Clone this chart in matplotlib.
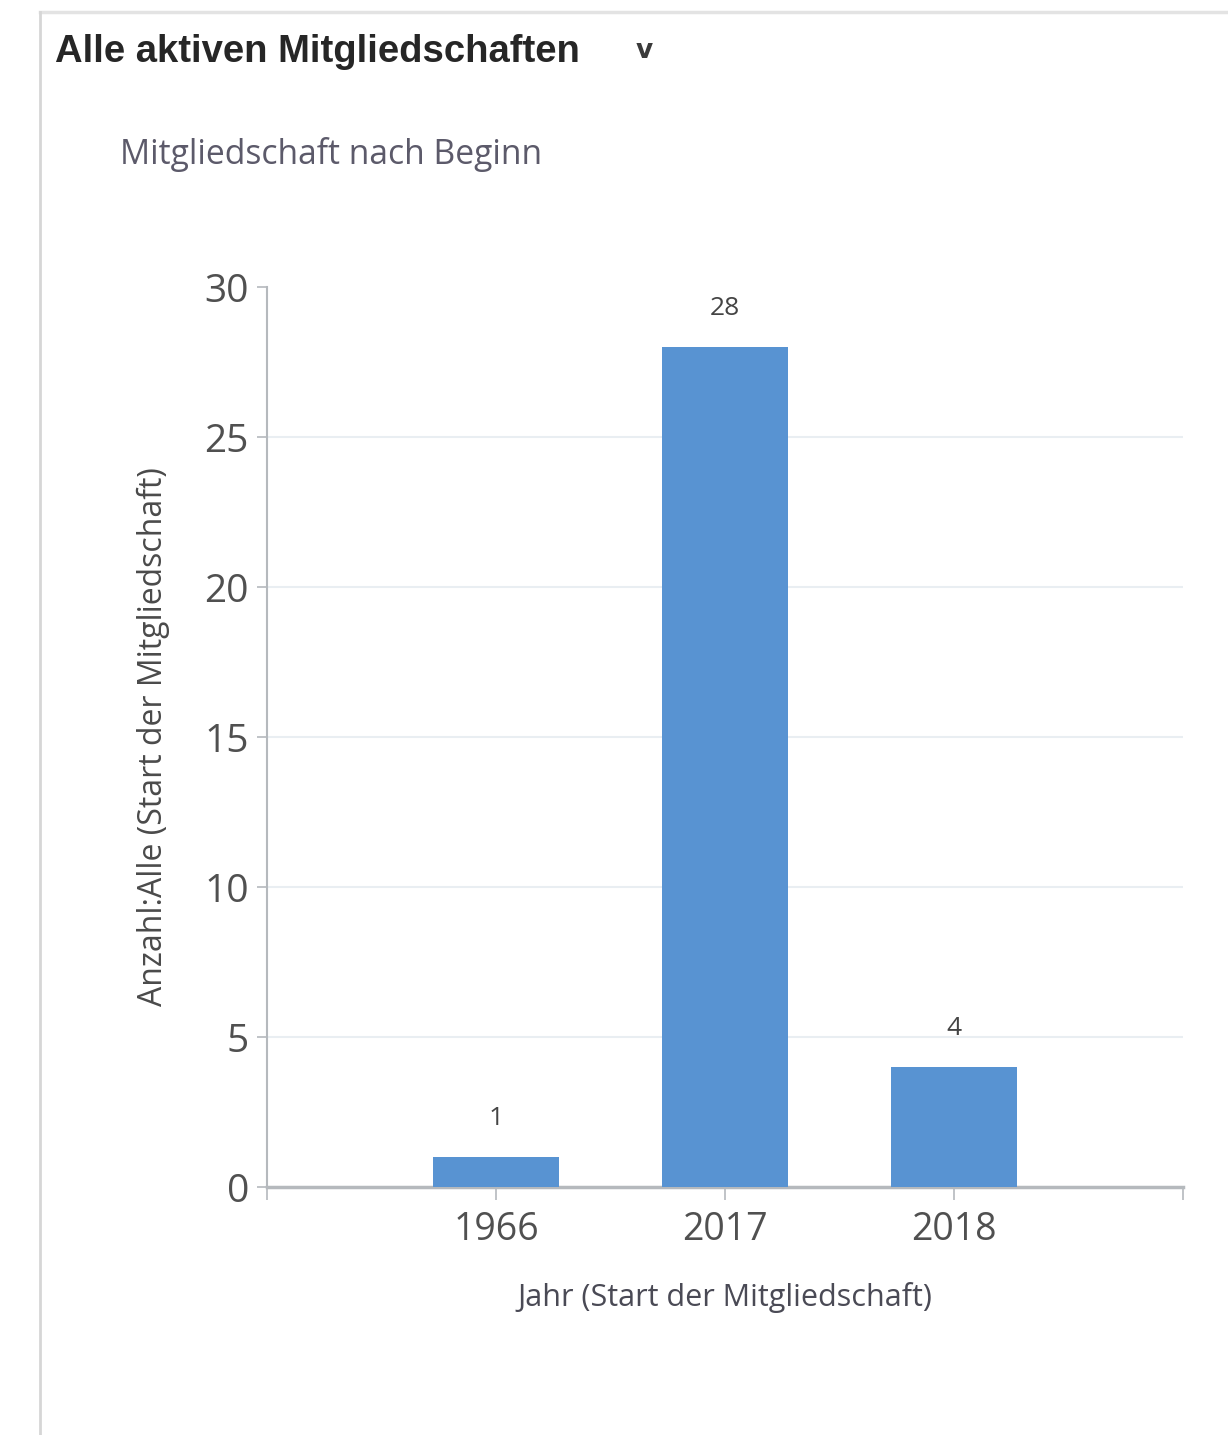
import matplotlib
matplotlib.use("Agg")
import matplotlib.pyplot as plt
from matplotlib.lines import Line2D

categories = ["1966", "2017", "2018"]
values = [1, 28, 4]
y_ticks = [0, 5, 10, 15, 20, 25, 30]

title = "Alle aktiven Mitgliedschaften"
subtitle = "Mitgliedschaft nach Beginn"
x_label = "Jahr (Start der Mitgliedschaft)"
y_label = "Anzahl:Alle (Start der Mitgliedschaft)"

W, H = 1228, 1435
fig = plt.figure(figsize=(W / 100, H / 100), dpi=100)
fig.patch.set_facecolor("white")

# panel border
fig.add_artist(Line2D([40 / W, 1.0], [1 - 12 / H, 1 - 12 / H], color="#e3e3e3", lw=2.5, transform=fig.transFigure))
fig.add_artist(Line2D([40 / W, 40 / W], [0, 1 - 12 / H], color="#d6d6d6", lw=2, transform=fig.transFigure))

fig.text(55 / W, 1 - 52 / H, title, fontsize=27.5, fontweight="bold", family="Liberation Sans",
         color="#262626", ha="left", va="center")
fig.text(644 / W, 1 - 51 / H, "v", fontsize=19, fontweight="bold", family="DejaVu Sans",
         color="#3a3a3a", ha="center", va="center")
fig.text(120 / W, 1 - 155 / H, subtitle, fontsize=24.2, family="Open Sans",
         color="#5c5a6a", ha="left", va="center")

ax = fig.add_axes([267 / W, 248 / H, (1183 - 267) / W, (1187 - 287) / H])
pos = list(range(1, len(categories) + 1))
bars = ax.bar(pos, values, width=0.55, color="#5893d2", zorder=3)

ax.set_xlim(0, len(categories) + 1)
ax.set_ylim(0, 30)
ax.set_yticks(y_ticks)
ax.set_yticklabels([str(t) for t in y_ticks])
ax.set_xticks([0] + pos + [len(categories) + 1])
ax.set_xticklabels([""] + categories + [""])

for t in y_ticks[1:-1]:
    ax.axhline(t, color="#e9eef2", lw=1.5, zorder=1)

for b, v in zip(bars, values):
    ax.annotate(str(v), (b.get_x() + b.get_width() / 2, v), xytext=(0, 19), textcoords="offset points",
                ha="center", va="bottom", fontsize=19, family="Open Sans", color="#444444")

for s in ["top", "right"]:
    ax.spines[s].set_visible(False)
ax.spines["left"].set_color("#b5b9bd")
ax.spines["left"].set_linewidth(1.5)
ax.spines["bottom"].set_color("#b5b9bd")
ax.spines["bottom"].set_linewidth(2.5)

ax.tick_params(axis="y", length=7, width=1.2, color="#b5b9bd", labelsize=28, labelcolor="#505050", pad=6)
ax.tick_params(axis="x", length=9, width=1.2, color="#b5b9bd", labelsize=27, labelcolor="#505050", pad=8)
for lbl in ax.get_xticklabels() + ax.get_yticklabels():
    lbl.set_family("Open Sans")

ax.set_xlabel(x_label, fontsize=22, family="Open Sans", color="#4a4a55")
ax.xaxis.set_label_coords((725 - 267) / (1183 - 267), -(1282 - 1187) / 900)
ax.set_ylabel(y_label, fontsize=23, family="Open Sans", color="#4a4a4a")
ax.yaxis.set_label_coords((170 - 267) / (1183 - 267), (1187 - 737) / 900)

fig.savefig("out.png", dpi=100, facecolor="white")
